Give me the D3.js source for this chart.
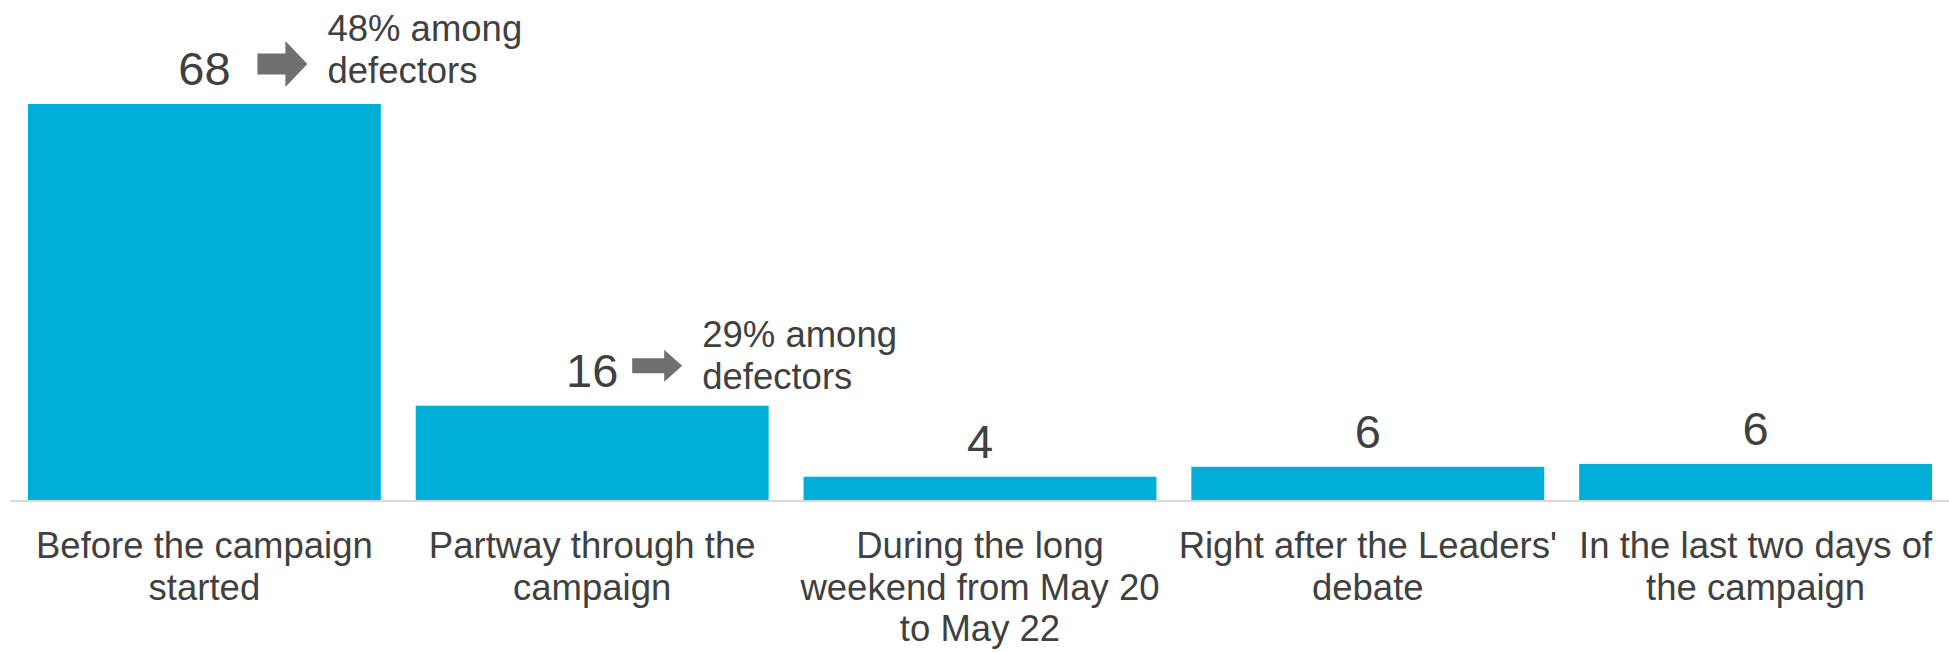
<!DOCTYPE html>
<html>
<head>
<meta charset="utf-8">
<script src="https://cdn.jsdelivr.net/npm/d3@7"></script>
<style>
  html, body { margin: 0; padding: 0; background: #ffffff; }
  svg { display: block; font-family: "Liberation Sans", Arial, sans-serif; }
</style>
</head>
<body>
<svg id="chart" width="1949" height="652"></svg>
<script>
// ---- data ----
const categories = [
  "Before the campaign started",
  "Partway through the campaign",
  "During the long weekend from May 20 to May 22",
  "Right after the Leaders' debate",
  "In the last two days of the campaign"
];
const categoryLines = [
  ["Before the campaign", "started"],
  ["Partway through the", "campaign"],
  ["During the long", "weekend from May 20", "to May 22"],
  ["Right after the Leaders'", "debate"],
  ["In the last two days of", "the campaign"]
];
const values = [68, 16.2, 4, 5.7, 6.2];
const valueLabels = ["68", "16", "4", "6", "6"];
const annotationIndex = [0, 1];
const annotationText = [["48% among", "defectors"], ["29% among", "defectors"]];

// ---- layout ----
const W = 1949, H = 652;
const baseY = 500, topY = 104;
const svg = d3.select("#chart");

const x = d3.scaleBand()
  .domain(categories)
  .range([10.5, 1949.5])
  .paddingInner(0.09)
  .paddingOuter(0.045);

const y = d3.scaleLinear()
  .domain([0, 68])
  .range([baseY, topY]);

const barColor = "#00afd7";
const textColor = "#404040";

// axis baseline
svg.append("line")
  .attr("x1", 10).attr("x2", W)
  .attr("y1", baseY + 1).attr("y2", baseY + 1)
  .attr("stroke", "#d9d9d9").attr("stroke-width", 2);

// bars
svg.selectAll("rect.bar")
  .data(categories)
  .join("rect")
  .attr("class", "bar")
  .attr("x", d => x(d))
  .attr("width", x.bandwidth())
  .attr("y", (d, i) => y(values[i]))
  .attr("height", (d, i) => baseY - y(values[i]))
  .attr("fill", barColor);

// value labels
svg.selectAll("text.val")
  .data(categories)
  .join("text")
  .attr("class", "val")
  .attr("x", d => x(d) + x.bandwidth() / 2)
  .attr("y", (d, i) => y(values[i]) - 19)
  .attr("text-anchor", "middle")
  .attr("font-size", 47)
  .attr("fill", textColor)
  .text((d, i) => valueLabels[i]);

// category labels
const cat = svg.selectAll("text.cat")
  .data(categories)
  .join("text")
  .attr("class", "cat")
  .attr("text-anchor", "middle")
  .attr("font-size", 36.5)
  .attr("fill", textColor);
cat.each(function(d, i) {
  const t = d3.select(this);
  categoryLines[i].forEach((ln, j) => {
    t.append("tspan")
      .attr("x", x(d) + x.bandwidth() / 2)
      .attr("y", 558 + j * 41.5)
      .text(ln);
  });
});

// annotations: arrow + text
const arrowSpec = [
  {dx: 53, w: 50, shaftH: 21, headH: 46, headW: 22, cyOff: -21, textOff: -23},
  {dx: 40, w: 50, shaftH: 15, headH: 32, headW: 18, cyOff: -21, textOff: -19}
];
annotationIndex.forEach((ci, k) => {
  const d = categories[ci];
  const cx = x(d) + x.bandwidth() / 2;
  const labelY = y(values[ci]) - 19;
  const s = arrowSpec[k];
  const x0 = cx + s.dx;
  const cy = labelY + s.cyOff;
  const xh = x0 + s.w - s.headW;
  const pts = [
    [x0, cy - s.shaftH / 2], [xh, cy - s.shaftH / 2], [xh, cy - s.headH / 2],
    [x0 + s.w, cy], [xh, cy + s.headH / 2], [xh, cy + s.shaftH / 2],
    [x0, cy + s.shaftH / 2]
  ];
  svg.append("path")
    .attr("d", d3.line()(pts) + "Z")
    .attr("fill", "#707070");

  const t = svg.append("text")
    .attr("font-size", 36.5)
    .attr("fill", textColor);
  annotationText[k].forEach((ln, j) => {
    t.append("tspan")
      .attr("x", x0 + s.w + 20)
      .attr("y", cy + s.textOff + j * 42)
      .text(ln);
  });
});
</script>
</body>
</html>
